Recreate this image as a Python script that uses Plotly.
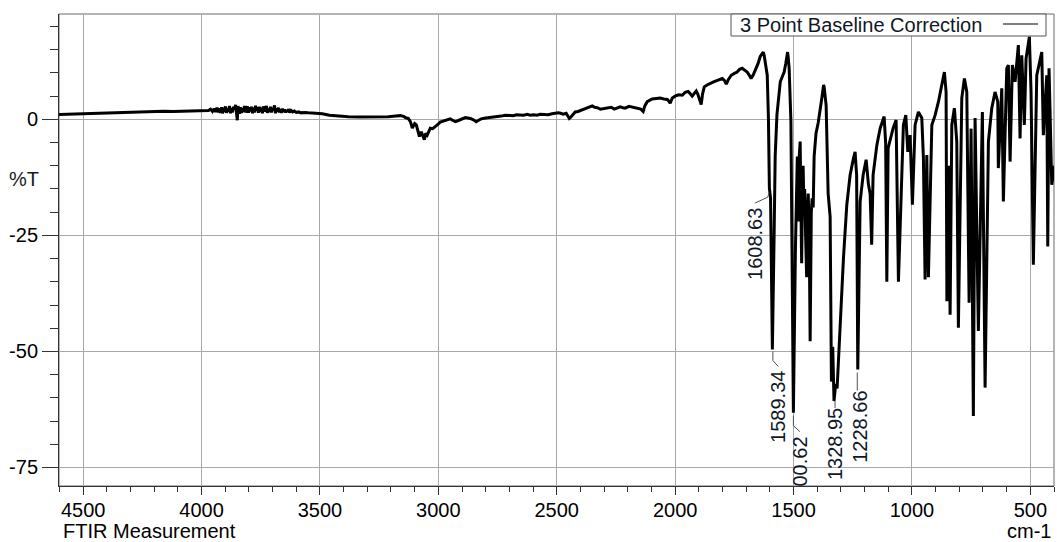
import plotly.graph_objects as go

# ---------------- data ----------------
wavenumber = [
    4602, 4560, 4520, 4480, 4440, 4400, 4360, 4320, 4280, 4240, 4200, 4160, 4120, 4080, 4040, 4000, 3985,
    3971, 3962, 3954, 3947, 3941, 3935, 3929, 3924, 3920, 3915, 3912, 3907, 3903, 3899, 3895, 3890, 3886,
    3882, 3878, 3874, 3870, 3865, 3861, 3856, 3853, 3849, 3846, 3844, 3840, 3836, 3831, 3827, 3823, 3819,
    3815, 3810, 3806, 3802, 3798, 3794, 3789, 3785, 3781, 3777, 3772, 3768, 3764, 3760, 3756, 3751, 3747,
    3743, 3739, 3734, 3730, 3726, 3722, 3718, 3713, 3709, 3705, 3701, 3697, 3692, 3688, 3684, 3680, 3675,
    3671, 3667, 3663, 3658, 3654, 3650, 3645, 3641, 3637, 3633, 3628, 3622, 3615, 3608, 3600, 3590, 3580,
    3566, 3549, 3524, 3490, 3460, 3422, 3380, 3329, 3270, 3211, 3180, 3160, 3145, 3139, 3127, 3118, 3110,
    3100, 3093, 3085, 3080, 3072, 3065, 3059, 3053, 3047, 3040, 3034, 3024, 3013, 3002, 2992, 2981, 2971,
    2960, 2950, 2940, 2928, 2918, 2907, 2896, 2886, 2875, 2865, 2852, 2840, 2830, 2819, 2800, 2781, 2765,
    2751, 2735, 2717, 2700, 2684, 2670, 2654, 2640, 2625, 2612, 2598, 2584, 2570, 2555, 2536, 2520, 2506,
    2494, 2483, 2473, 2460, 2453, 2447, 2440, 2435, 2422, 2410, 2401, 2390, 2380, 2365, 2350, 2340, 2329,
    2316, 2300, 2290, 2283, 2270, 2257, 2245, 2232, 2220, 2211, 2195, 2181, 2170, 2156, 2145, 2135, 2128,
    2118, 2108, 2097, 2080, 2063, 2048, 2033, 2025, 2021, 2012, 2000, 1985, 1970, 1958, 1945, 1936, 1928,
    1919, 1911, 1904, 1898, 1890, 1884, 1877, 1865, 1852, 1840, 1827, 1814, 1801, 1792, 1784, 1775, 1763,
    1750, 1738, 1728, 1717, 1706, 1696, 1688, 1679, 1670, 1658, 1650, 1641, 1633, 1628, 1624, 1620, 1611,
    1606, 1602, 1597, 1589.34, 1582, 1577.5, 1570, 1562, 1556, 1545, 1539.6, 1533, 1528, 1525, 1522.7,
    1518.5, 1511, 1500.62,
    1492, 1488, 1484, 1480, 1477, 1472, 1468, 1465.7, 1462, 1459.4, 1456, 1453, 1449, 1444.6, 1441, 1438,
    1434, 1429.8, 1425, 1421.4, 1417, 1413, 1405, 1396,
    1380.4, 1373, 1370.7, 1362.3, 1353.8, 1345.4, 1340, 1334.5, 1328.95, 1322, 1316, 1303, 1289,
    1275, 1261, 1247, 1240, 1233.5, 1228.66, 1218.7, 1206, 1193.4, 1183.7, 1176.5, 1170, 1164, 1148, 1134,
    1117.4, 1111, 1106, 1100.5, 1079.4, 1066.8, 1057, 1036, 1025.8, 1017.4, 1007.7, 998, 986.6, 972.6,
    958.3, 951.5, 944.4, 937.2, 930.4, 916, 902, 888, 874, 863, 855.7, 852.3, 845, 838.8, 831.6, 820.7,
    810.6, 803.8, 789.4, 778.4, 768.3, 758.6, 750.2, 740.5, 733.3, 719.4, 702.5, 691, 677, 662.8, 649,
    637.5, 635, 620.6, 613.8, 599.5, 592.7, 585.5, 575.8, 564.4, 550.5, 543.3, 536.2, 525.2, 518, 504,
    496.9, 487.2, 472.8, 451.7, 445, 430.6, 426.4, 421, 409.5, 400, 398,
]
transmittance = [
    1.05, 1.12, 1.2, 1.28, 1.33, 1.4, 1.48, 1.52, 1.55, 1.6, 1.66, 1.72, 1.7, 1.76, 1.82, 1.85, 1.9,
    1.9, 2.2, 1.7, 2.3, 1.6, 2.5, 1.5, 2.4, 1.4, 2.6, 1.3, 2.5, 1.6, 2.8, 1.4, 2.3, 1.7,
    2.9, 1.3, 2.4, 1.5, 2.7, 2.2, 3.1, 2.0, -0.2, 2.8, 2.5, 1.2, 2.6, 1.4, 2.4, 1.6, 2.9,
    1.5, 2.2, 2.8, 1.4, 2.6, 1.7, 2.7, 1.3, 2.5, 1.5, 2.9, 1.8, 2.6, 1.4, 2.7, 1.6, 2.5,
    1.3, 2.8, 1.7, 2.4, 2.9, 1.4, 2.3, 1.6, 2.7, 1.5, 2.5, 1.9, 3.0, 1.3, 2.4, 1.6, 2.5,
    1.5, 2.2, 1.4, 2.3, 1.6, 2.1, 1.5, 2.0, 1.6, 2.2, 1.5, 1.9, 1.6, 1.8, 1.5, 1.6, 1.4,
    1.5, 1.4, 1.35, 1.2, 0.9, 0.7, 0.55, 0.5, 0.5, 0.55, 0.7, 0.8, 0.6, 0.35, 0.2, -0.5, -1.9,
    -0.9, -1.2, -2.5, -3.7, -2.7, -3.5, -4.4, -3.0, -3.4, -2.6, -1.9, -2.0, -1.6, -1.1, -0.6, -0.4, -0.15,
    0.0, 0.1, -0.2, -0.5, -0.3, 0.0, 0.3, 0.4, 0.3, 0.2, -0.1, -0.5, -0.2, 0.1, 0.3, 0.4, 0.5,
    0.6, 0.7, 0.9, 0.8, 0.8, 1.0, 1.0, 0.9, 1.1, 0.9, 1.0, 0.9, 1.1, 1.0, 1.0, 1.2, 1.3,
    1.4, 1.3, 1.1, 1.3, 0.8, 0.2, 0.5, 0.8, 1.6, 1.7, 1.9, 2.0, 2.2, 2.6, 2.9, 2.6, 2.5,
    2.2, 2.3, 2.5, 2.4, 2.6, 2.2, 2.5, 2.7, 2.5, 2.4, 2.8, 2.6, 2.5, 2.4, 2.2, 1.7, 2.9,
    3.8, 4.1, 4.4, 4.5, 4.6, 4.4, 4.3, 3.8, 3.5, 4.6, 5.0, 5.3, 5.2, 5.8, 6.0, 5.5, 5.0,
    5.6, 6.1, 5.4, 4.5, 3.2, 5.5, 7.0, 7.4, 7.8, 8.0, 8.3, 8.6, 8.8, 8.4, 7.6, 8.6, 9.5,
    9.9, 10.2, 10.8, 11.0, 10.6, 10.2, 9.6, 8.8, 9.6, 11.0, 12.0, 13.5, 14.3, 14.5, 13.8, 12.7, 9.5,
    0.2, -14.8, -17.0, -49.6, -25.0, -8.0, 1.0, 6.0, 8.1, 9.5, 10.2, 12.0, 13.8, 14.5, 13.5,
    11.0, -0.5, -63.2,
    -28.0, -12.0, -8.0, -22.0, -9.0, -4.8, -18.0, -31.0, -14.0, -10.0, -20.0, -15.0, -25.0, -34.0, -20.0, -16.0,
    -24.0, -47.8, -20.0, -17.0, -19.0, -8.0, -3.0, -0.8,
    4.6, 7.4, 7.0, 3.0, -16.0, -21.0, -56.5, -49.0, -60.7, -57.0, -58.0, -44.2, -29.8,
    -18.4, -12.0, -8.4, -7.0, -12.0, -53.9, -17.7, -12.0, -8.7, -14.0, -16.0, -27.0, -12.0, -5.5, -1.9,
    0.6, -5.0, -35.0, -6.2, -1.9, -0.15, -35.0, -1.2, 0.9, -7.0, -3.4, -18.4, -1.2, 1.6,
    0.3, -8.4, -34.5, -7.7, -34.0, -1.2, 0.9, 3.8, 7.4, 10.2, 5.9, -39.2, -10.0, -42.1, -1.2, 2.4,
    -4.8, -44.9, 4.6, 8.8, 5.9, -39.5, -2.0, -63.9, 0.3, -45.6, 1.6, -57.8, -4.8, 2.4, 5.9,
    3.8, -10.5, 6.7, -17.7, 11.0, 11.7, -9.1, 11.7, 8.1, 16.0, -4.1, 13.8, -1.2, 13.1, 17.8,
    5.9, -31.3, 9.5, 14.5, -3.4, 9.5, -27.4, 11.0, -14.1, -11.0, -10.0,
]

peak_wn = [1608.63, 1589.34, 1500.62, 1328.95, 1228.66]
peak_t = [-15.9, -49.6, -63.2, -60.7, -53.9]
peak_labels = ["1608.63", "1589.34", "1500.62", "1328.95", "1228.66"]

x_tickvals = [4500, 4000, 3500, 3000, 2500, 2000, 1500, 1000, 500]
y_tickvals = [0, -25, -50, -75]
series_name = "3 Point Baseline Correction"
x_unit = "cm-1"
y_unit = "%T"
corner_title = "FTIR Measurement"

# ---------------- styling ----------------
FONT = "Liberation Sans, Arial, sans-serif"
FS = 20
W, H = 1057, 542
ML, MR, MT, MB = 59, 3, 14, 56
PW, PH = W - ML - MR, H - MT - MB

# label layout (pixel offsets from the peak point, +y = up): text centre, leader path, visible chars
label_style = [
    dict(text_dx=-13, text_dy=-51, path=[(1, 0), (0, -4), (-13, -10)], skip=0),
    dict(text_dx=5, text_dy=-57, path=[(0.5, -2), (0.5, -11), (6, -17)], skip=0),
    dict(text_dx=6.5, text_dy=-49, path=[(0, -3), (0, -13), (6.5, -19)], skip=2),
    dict(text_dx=1, text_dy=-43, path=[(1, 0), (1, -7)], skip=0),
    dict(text_dx=1.5, text_dy=-57, path=[(-0.5, -3), (-0.5, -21)], skip=0),
]

fig = go.Figure()
fig.add_trace(go.Scatter(
    x=wavenumber, y=transmittance, mode="lines", name=series_name,
    line=dict(color="#000000", width=3), showlegend=False,
))

shapes = []
annotations = []

# plot frame
shapes.append(dict(type="rect", xref="paper", yref="paper", x0=0, x1=1, y0=0, y1=1,
                   line=dict(color="#6a6a6a", width=1), layer="below"))

for wn, t, lab, st in zip(peak_wn, peak_t, peak_labels, label_style):
    pts = st["path"]
    path = "M{},{}".format(pts[0][0], pts[0][1]) + "".join(" L{},{}".format(a, b) for a, b in pts[1:])
    shapes.append(dict(type="path", xref="x", yref="y", xsizemode="pixel", ysizemode="pixel",
                       xanchor=wn, yanchor=t, path=path,
                       line=dict(color="#505050", width=1)))
    annotations.append(dict(x=wn, y=t, xref="x", yref="y", text=lab[st["skip"]:],
                            textangle=-90, showarrow=False, xanchor="center", yanchor="middle",
                            xshift=st["text_dx"], yshift=st["text_dy"],
                            font=dict(family=FONT, size=FS, color="#101828")))

# legend box (text then line sample, as in the reference)
lx0, lx1, ly0, ly1 = 731, 1046, 14, 36
shapes.append(dict(type="rect", xref="paper", yref="paper",
                   x0=(lx0 - ML) / PW, x1=(lx1 - ML) / PW,
                   y0=1 - (ly1 - MT) / PH, y1=1 - (ly0 - MT) / PH,
                   line=dict(color="#555555", width=1), fillcolor="white", layer="above"))
shapes.append(dict(type="line", xref="paper", yref="paper",
                   x0=(1003 - ML) / PW, x1=(1038 - ML) / PW,
                   y0=1 - (24 - MT) / PH, y1=1 - (24 - MT) / PH,
                   line=dict(color="#000000", width=1.2), layer="above"))
annotations.append(dict(xref="paper", yref="paper", x=(738 - ML) / PW, y=1 - (24.5 - MT) / PH,
                        xanchor="left", yanchor="middle", text=series_name, showarrow=False,
                        font=dict(family=FONT, size=FS, color="#101828")))

# axis captions
annotations.append(dict(xref="paper", yref="paper", x=(61 - ML) / PW, y=1 - (531 - MT) / PH,
                        xanchor="left", yanchor="middle", text=corner_title, showarrow=False,
                        font=dict(family=FONT, size=FS, color="#000000")))
annotations.append(dict(xref="paper", yref="paper", x=(1053 - ML) / PW, y=1 - (531 - MT) / PH,
                        xanchor="right", yanchor="middle", text=x_unit, showarrow=False,
                        font=dict(family=FONT, size=FS, color="#000000")))
annotations.append(dict(xref="paper", yref="paper", x=(24 - ML) / PW, y=1 - (179 - MT) / PH,
                        xanchor="center", yanchor="middle", text=y_unit, showarrow=False,
                        font=dict(family=FONT, size=FS, color="#1a1a1a")))

fig.update_layout(
    width=W, height=H,
    margin=dict(l=ML, r=MR, t=MT, b=MB, pad=0),
    paper_bgcolor="white", plot_bgcolor="white",
    font=dict(family=FONT, size=FS, color="#000000"),
    shapes=shapes, annotations=annotations,
    xaxis=dict(
        range=[4602, 400], tickvals=x_tickvals, ticktext=[str(v) for v in x_tickvals],
        showgrid=True, gridcolor="#a8a8a8", gridwidth=1, zeroline=False,
        showline=True, linecolor="#333333", linewidth=1,
        ticks="outside", ticklen=8, tickwidth=1, tickcolor="#333333", ticklabelstandoff=-2,
        minor=dict(dtick=100, tick0=0, ticks="outside", ticklen=5, tickcolor="#333333", showgrid=False),
        tickfont=dict(family=FONT, size=FS, color="#000000"),
    ),
    yaxis=dict(
        range=[-79, 22.7], tickvals=y_tickvals, ticktext=[str(v) for v in y_tickvals],
        showgrid=True, gridcolor="#a8a8a8", gridwidth=1, zeroline=False,
        showline=True, linecolor="#333333", linewidth=1,
        ticks="outside", ticklen=16, tickwidth=1, tickcolor="#333333",
        minor=dict(dtick=5, tick0=0, ticks="outside", ticklen=8, tickcolor="#333333", showgrid=False),
        tickfont=dict(family=FONT, size=FS, color="#000000"),
    ),
)

fig.write_html("out.html")
